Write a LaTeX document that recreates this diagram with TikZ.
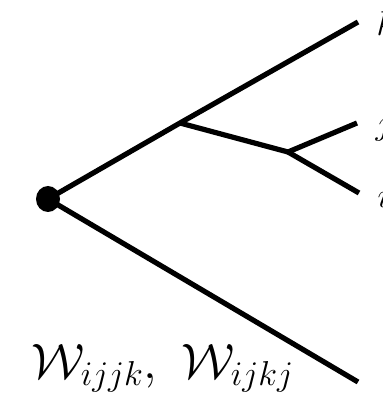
\documentclass[tikz,border=0pt]{standalone}
\usepackage{amsmath}
\usetikzlibrary{positioning,shapes.geometric}

\begin{document}
\begin{tikzpicture}[x=0.5pt,y=-0.5pt,line width=2.6pt]
  \useasboundingbox (0,0) rectangle (383,400);
  % root vertex
  \node[ellipse,fill=black,inner sep=0pt,minimum width=12pt,minimum height=13pt] (root) at (48,199) {};
  % branch points
  \coordinate (b1) at (180,123);
  \coordinate (b2) at (288,152);
  % leaf ends
  \coordinate (ek) at (358,22);
  \coordinate (ej) at (357,123);
  \coordinate (ei) at (359,193);
  \coordinate (eb) at (358,382);

  % lines
  \draw (root.center) -- (b1) -- (ek);
  \draw (b1) -- (b2) -- (ej);
  \draw (b2) -- (ei);
  \draw (root.center) -- (eb);

  % leaf labels
  \node[font=\fontsize{16}{19}\selectfont,anchor=west,inner sep=0pt] (lk) at (374,24) {$k$};
  \node[font=\fontsize{16}{19}\selectfont,anchor=west,inner sep=0pt] (lj) at (373,127) {$j$};
  \node[font=\fontsize{16}{19}\selectfont,anchor=west,inner sep=0pt] (li) at (375,196) {$i$};

  % amplitude label
  \node[font=\fontsize{26.5}{31}\selectfont,anchor=base west,inner sep=0pt] (lw) at (29,378)
    {$\mathcal{W}_{ijjk},\ \mathcal{W}_{ijkj}$};
\end{tikzpicture}
\end{document}
